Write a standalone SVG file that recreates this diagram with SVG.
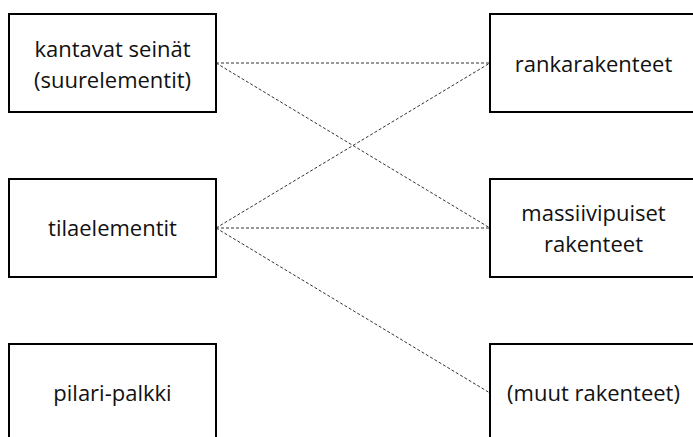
<svg xmlns="http://www.w3.org/2000/svg" width="693" height="437" viewBox="0 0 693 437">
<style>
.box{fill:#fff;stroke:#000;stroke-width:2}
.t{font-family:"Open Sans","Liberation Sans",sans-serif;font-size:22px;fill:#111;text-anchor:middle}
.c{stroke:#333;stroke-width:1;stroke-dasharray:3 2;fill:none}
</style>
<rect width="693" height="437" fill="#fff"/>
<g id="connectors">
<line class="c" x1="216" y1="63" x2="490" y2="63"/>
<line class="c" x1="216" y1="63" x2="490" y2="228"/>
<line class="c" x1="216" y1="228" x2="490" y2="63"/>
<line class="c" x1="216" y1="228" x2="490" y2="228"/>
<line class="c" x1="216" y1="228" x2="490" y2="393"/>
</g>
<g id="kantavat">
<rect class="box" x="9" y="14" width="207" height="98"/>
<text class="t" x="112.5" y="57">kantavat seinät</text>
<text class="t" x="112.5" y="88">(suurelementit)</text>
</g>
<g id="tilaelementit">
<rect class="box" x="9" y="179" width="207" height="98"/>
<text class="t" x="112.5" y="236">tilaelementit</text>
</g>
<g id="pilari">
<rect class="box" x="9" y="344" width="207" height="98"/>
<text class="t" x="112.5" y="401">pilari-palkki</text>
</g>
<g id="ranka">
<rect class="box" x="490" y="14" width="207" height="98"/>
<text class="t" x="593.5" y="72">rankarakenteet</text>
</g>
<g id="massiivi">
<rect class="box" x="490" y="179" width="207" height="98"/>
<text class="t" x="593.5" y="221">massiivipuiset</text>
<text class="t" x="593.5" y="252">rakenteet</text>
</g>
<g id="muut">
<rect class="box" x="490" y="344" width="207" height="98"/>
<text class="t" x="593.5" y="401">(muut rakenteet)</text>
</g>
</svg>
